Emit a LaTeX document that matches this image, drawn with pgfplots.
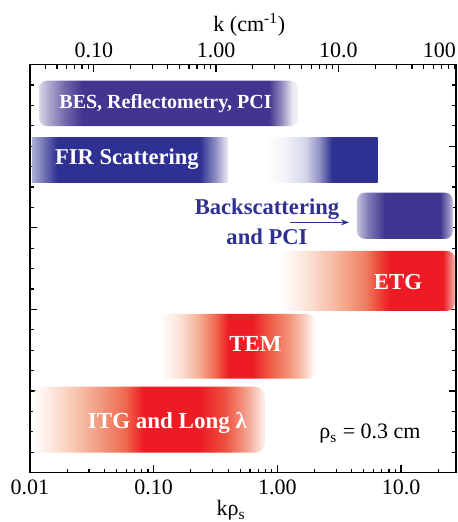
\documentclass[border=0pt]{standalone}
\usepackage{fontspec}
\setmainfont{Liberation Serif}
\usepackage{pgfplots}
\pgfplotsset{compat=1.18}
\usetikzlibrary{arrows.meta}
\definecolor{bes}{HTML}{41358F}
\definecolor{fir}{HTML}{2E3192}
\definecolor{back}{HTML}{3F3590}
\definecolor{myred}{HTML}{ED1C24}
\definecolor{btxt}{HTML}{2E3192}

\pgfdeclarehorizontalshading{shBES}{100bp}{color(0bp)=(bes!20!white); color(25bp)=(bes!20!white); color(27.1bp)=(bes!45!white); color(30bp)=(bes!75!white); color(33.5bp)=(bes); color(69.4bp)=(bes); color(71.9bp)=(bes!55!white); color(73.85bp)=(bes!12!white); color(75bp)=(bes!7!white); color(100bp)=(bes!7!white)}
\pgfdeclarehorizontalshading{shFIRa}{100bp}{color(0bp)=(fir!40!white); color(25bp)=(fir!40!white); color(28.3bp)=(fir!70!white); color(31.4bp)=(fir); color(67.9bp)=(fir); color(71.7bp)=(fir!55!white); color(74.2bp)=(fir!20!white); color(75bp)=(fir!10!white); color(100bp)=(fir!10!white)}
\pgfdeclarehorizontalshading{shFIRb}{100bp}{color(0bp)=(white); color(25bp)=(white); color(34.9bp)=(fir!5!white); color(43.6bp)=(fir!20!white); color(50.1bp)=(fir!55!white); color(55.2bp)=(fir); color(75bp)=(fir); color(100bp)=(fir)}
\pgfdeclarehorizontalshading{shBack}{100bp}{color(0bp)=(back!30!white); color(25bp)=(back!30!white); color(30.7bp)=(back!65!white); color(39.6bp)=(back); color(68.2bp)=(back); color(72.9bp)=(back!55!white); color(75bp)=(back!25!white); color(100bp)=(back!25!white)}
\pgfdeclarehorizontalshading{shETG}{100bp}{color(0bp)=(white); color(25bp)=(white); color(32.1bp)=(rgb,255:red,252;green,230;blue,220); color(40.7bp)=(rgb,255:red,246;green,184;blue,160); color(49.3bp)=(rgb,255:red,240;green,126;blue,98); color(54.1bp)=(rgb,255:red,236;green,58;blue,48); color(56.4bp)=(myred); color(71.6bp)=(myred); color(74.1bp)=(rgb,255:red,242;green,138;blue,132); color(75bp)=(rgb,255:red,246;green,184;blue,176); color(100bp)=(rgb,255:red,246;green,184;blue,176)}
\pgfdeclarehorizontalshading{shTEM}{100bp}{color(0bp)=(white); color(25bp)=(white); color(31.5bp)=(rgb,255:red,252;green,226;blue,214); color(37.9bp)=(rgb,255:red,245;green,170;blue,144); color(42.7bp)=(rgb,255:red,239;green,106;blue,80); color(47bp)=(myred); color(54.7bp)=(myred); color(59.8bp)=(rgb,255:red,239;green,85;blue,64); color(66.9bp)=(rgb,255:red,243;green,151;blue,124); color(71.8bp)=(rgb,255:red,249;green,208;blue,192); color(75bp)=(white); color(100bp)=(white)}
\pgfdeclarehorizontalshading{shITG}{100bp}{color(0bp)=(white); color(25bp)=(white); color(28.7bp)=(rgb,255:red,253;green,232;blue,224); color(33bp)=(rgb,255:red,249;green,205;blue,184); color(39.4bp)=(rgb,255:red,242;green,154;blue,128); color(44.8bp)=(rgb,255:red,239;green,106;blue,80); color(48.7bp)=(myred); color(61bp)=(myred); color(66.4bp)=(rgb,255:red,238;green,80;blue,64); color(70.7bp)=(rgb,255:red,244;green,154;blue,136); color(73.5bp)=(rgb,255:red,249;green,212;blue,202); color(75bp)=(rgb,255:red,253;green,240;blue,238); color(100bp)=(rgb,255:red,253;green,240;blue,238)}

\begin{document}
\begin{tikzpicture}[font=\fontsize{11}{13}\selectfont]
\useasboundingbox (-15pt,-24.65pt) rectangle (213.5pt,236.35pt);
\clip (-15pt,-24.65pt) rectangle (213.5pt,236.35pt);
\begin{axis}[
  scale only axis, width=213pt, height=204pt,
  xmode=log, xmin=0.01, xmax=27.85, ymin=0, ymax=20,
  axis line style={line width=0.8pt},
  every tick/.style={black, line width=0.6pt},
  tick align=inside,
  major tick length=3.75pt, minor tick length=2pt,
  xtick pos=left, ytick pos=both,
  xtick={0.01,0.1,1,10}, xticklabels={0.01,0.10,1.00,10.0},
  minor xtick={0.02,0.03,0.04,0.05,0.06,0.07,0.08,0.09,0.2,0.3,0.4,0.5,0.6,0.7,0.8,0.9,2,3,4,5,6,7,8,9,20},
  ytick={0,4,8,12,16,20}, yticklabels={}, minor ytick={1,2,3,5,6,7,9,10,11,13,14,15,17,18,19},
  xlabel={kρ\textsubscript{s}},
  xlabel style={at={(rel axis cs:0.472,0)}, anchor=base, yshift=-21.65pt},
  no markers,
]
\addplot[draw=none, shade, shading=shBES, rounded corners=4pt] coordinates {(0.01183,16.99) (1.469,16.99) (1.469,19.22) (0.01183,19.22)} -- cycle;
\addplot[draw=none, shade, shading=shFIRa] coordinates {(0.01038,14.22) (0.399,14.22) (0.399,16.42) (0.01038,16.42)} -- cycle;
\addplot[draw=none, shade, shading=shFIRb] coordinates {(0.7516,14.22) (6.479,14.22) (6.479,16.42) (0.7516,16.42)} -- cycle;
\addplot[draw=none, shade, shading=shBack, rounded corners=4pt] coordinates {(4.406,11.46) (26.33,11.46) (26.33,13.73) (4.406,13.73)} -- cycle;
\addplot[draw=none, shade, shading=shETG, rounded corners=4pt] coordinates {(1.051,7.93) (27.33,7.93) (27.33,10.87) (1.051,10.87)} -- cycle;
\addplot[draw=none, shade, shading=shTEM, rounded corners=4pt] coordinates {(0.1125,4.61) (2.016,4.61) (2.016,7.78) (0.1125,7.78)} -- cycle;
\addplot[draw=none, shade, shading=shITG, rounded corners=5pt] coordinates {(0.01057,0.98) (0.7949,0.98) (0.7949,4.22) (0.01057,4.22)} -- cycle;

\node[text=white, font=\bfseries\fontsize{10}{12}\selectfont] at (axis cs:0.1247,18.07) {BES, Reflectometry, PCI};
\node[text=white, font=\bfseries\fontsize{11.3}{13}\selectfont] at (axis cs:0.0608,15.38) {FIR Scattering};
\node[text=btxt, font=\bfseries\fontsize{11.3}{15}\selectfont, align=center] at (axis cs:0.825,12.29) {Backscattering\\and PCI};
\draw[btxt, line width=0.6pt, -{Stealth[length=4pt,width=3pt]}] (axis cs:1.266,12.27) -- (axis cs:3.797,12.27);
\node[text=white, font=\bfseries\fontsize{11.4}{13}\selectfont] at (axis cs:9.457,9.36) {ETG};
\node[text=white, font=\bfseries\fontsize{11.5}{13}\selectfont] at (axis cs:0.666,6.31) {TEM};
\node[text=white, font=\bfseries\fontsize{11.5}{13}\selectfont] at (axis cs:0.1293,2.45) {ITG and Long λ};
\node[text=black] at (axis cs:5.61,1.90) {ρ\textsubscript{s} = 0.3 cm};
\end{axis}
\begin{axis}[
  scale only axis, width=213pt, height=204pt,
  xmode=log, xmin=0.0301, xmax=91.7, ymin=0, ymax=20,
  axis x line*=top, hide y axis,
  axis line style={line width=0.8pt},
  every tick/.style={black, line width=0.6pt},
  tick align=inside,
  major tick length=3.75pt, minor tick length=2pt,
  xtick={0.1,1,10}, xticklabels={0.10,1.00,10.0},
  minor xtick={0.04,0.05,0.06,0.07,0.08,0.09,0.2,0.3,0.4,0.5,0.6,0.7,0.8,0.9,2,3,4,5,6,7,8,9,20,30,40,50,60,70,80,90},
  xlabel={k (cm\textsuperscript{-1})},
  xlabel style={at={(rel axis cs:0.515,1)}, anchor=base, yshift=16.5pt},
  clip=false,
]
\addplot[draw=none] coordinates {(1,0)};
\node[anchor=south] at (rel axis cs:0.961,1) {100};
\end{axis}
\end{tikzpicture}
\end{document}
